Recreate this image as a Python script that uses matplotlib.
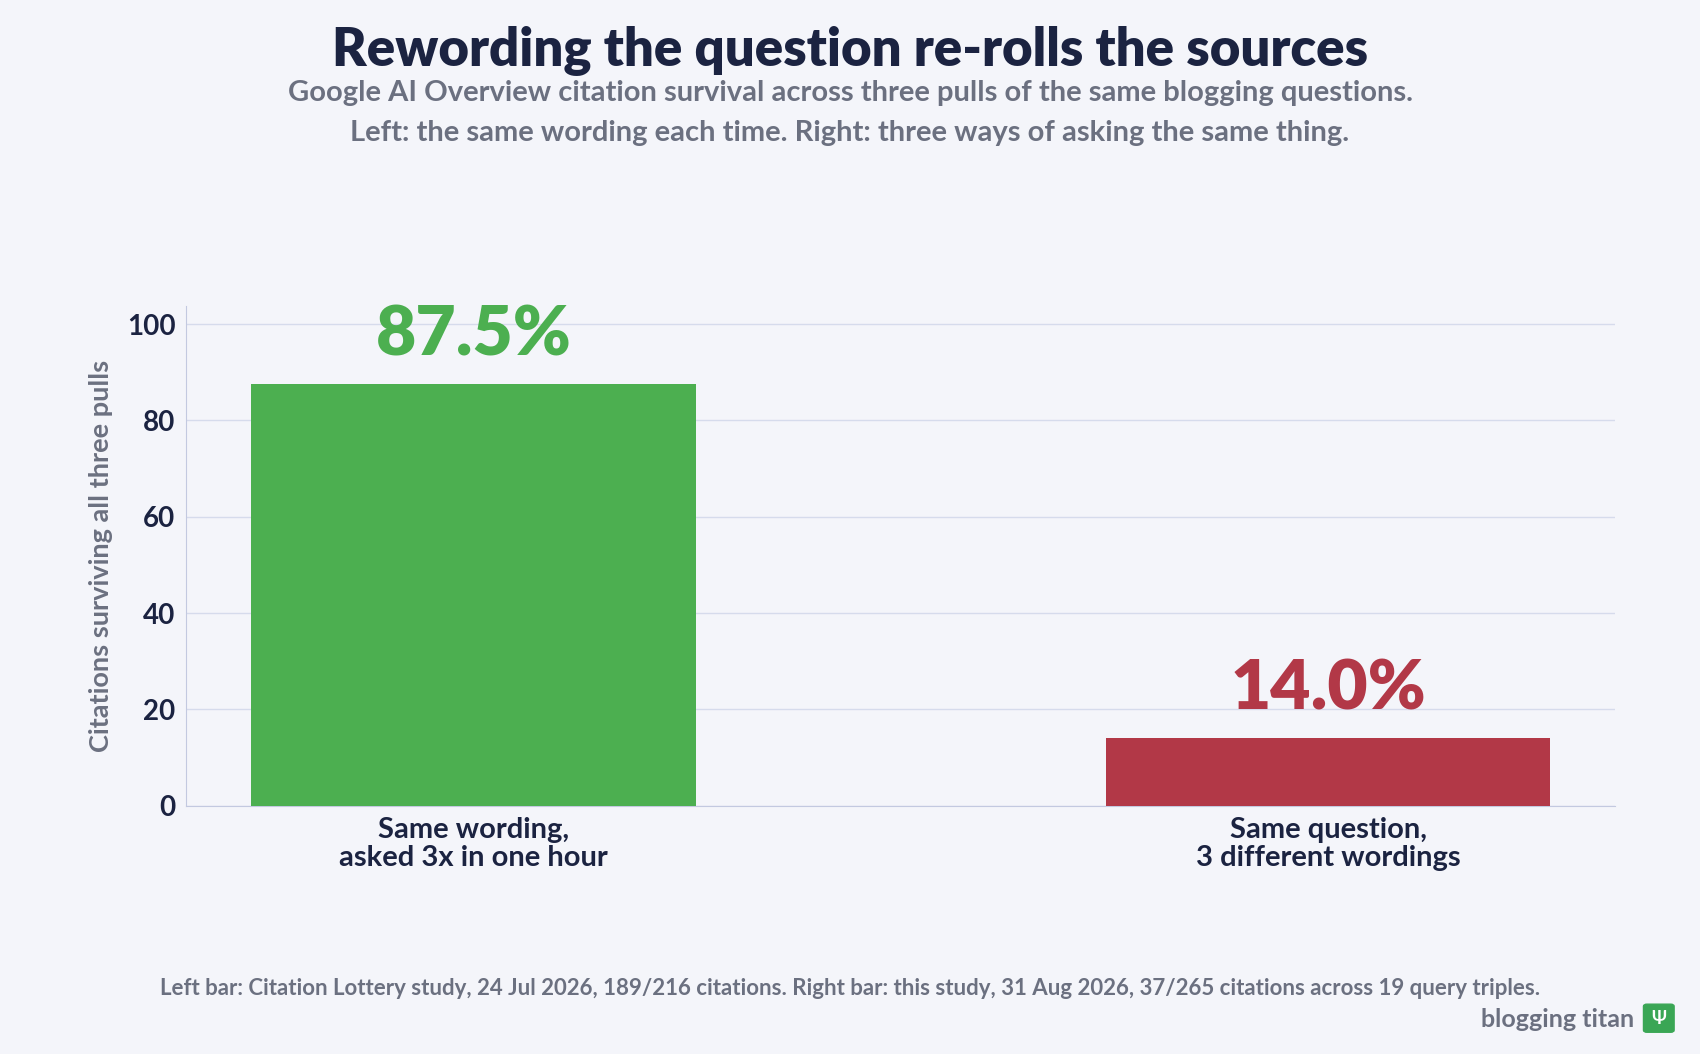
import matplotlib
matplotlib.use("Agg")
import matplotlib.pyplot as plt

categories = ["Same wording,\nasked 3x in one hour", "Same question,\n3 different wordings"]
values = [87.5, 14.0]
labels = ["87.5%", "14.0%"]
colors = ["#4caf50", "#b23847"]
yticks = [0, 20, 40, 60, 80, 100]

plt.rcParams['font.family'] = ['Lato', 'DejaVu Sans']
bg = "#f4f5fa"
navy = "#1b2341"
gray = "#6b7080"

fig = plt.figure(figsize=(17, 10.54), dpi=100, facecolor=bg)
W, H = 1568, 972
ax = fig.add_axes([172/W, 1-743/H, (1490-172)/W, (743-282)/H], facecolor=bg)
x = range(len(values))
ax.bar(x, values, width=0.52, color=colors, zorder=3)
ax.set_xlim(-0.336, 1.336)
ax.set_ylim(0, 103.8)
ax.set_yticks(yticks)
ax.set_xticks(list(x))
ax.set_xticklabels(categories, fontsize=21, fontweight='bold', color=navy, linespacing=1.1)
ax.tick_params(axis='y', labelsize=20, labelcolor=navy, length=0, pad=8)
ax.tick_params(axis='x', length=0, pad=8)
for lbl in ax.get_yticklabels():
    lbl.set_fontweight('bold')
ax.grid(axis='y', color="#d6dbec", linewidth=1, zorder=0)
for s in ['top', 'right']:
    ax.spines[s].set_visible(False)
for s in ['left', 'bottom']:
    ax.spines[s].set_color("#c3c9e0")
ax.set_ylabel("Citations surviving all three pulls", fontsize=19.5, fontweight='bold', color=gray, labelpad=10)
for i, (v, l, c) in enumerate(zip(values, labels, colors)):
    ax.text(i, v + 3.5, l, ha='center', va='bottom', fontsize=50, fontweight='heavy', color=c)

fig.text(784/W, 1-47/H, "Rewording the question re-rolls the sources", ha='center', va='center',
         fontsize=38, fontweight='heavy', color=navy)
fig.text(784/W, 1-86/H, "Google AI Overview citation survival across three pulls of the same blogging questions.",
         ha='center', va='center', fontsize=21, fontweight='bold', color=gray)
fig.text(784/W, 1-123/H, "Left: the same wording each time. Right: three ways of asking the same thing.",
         ha='center', va='center', fontsize=21, fontweight='bold', color=gray)
fig.text(784/W, 1-912/H, "Left bar: Citation Lottery study, 24 Jul 2026, 189/216 citations. Right bar: this study, 31 Aug 2026, 37/265 citations across 19 query triples.",
         ha='center', va='center', fontsize=16, fontweight='bold', color=gray)
fig.text(1507/W, 1-940/H, "blogging titan", ha='right', va='center', fontsize=18, fontweight='bold', color=gray)
fig.patches.append(matplotlib.patches.FancyBboxPatch((1519/W, 1-950/H), 22/W, 22/H,
    boxstyle="round,pad=0.002", transform=fig.transFigure, color="#3aa655"))
fig.text(1530/W, 1-939/H, "Ψ", ha='center', va='center', fontsize=13, fontweight='bold', color='white')
fig.savefig("out.png", dpi=100, facecolor=bg)
